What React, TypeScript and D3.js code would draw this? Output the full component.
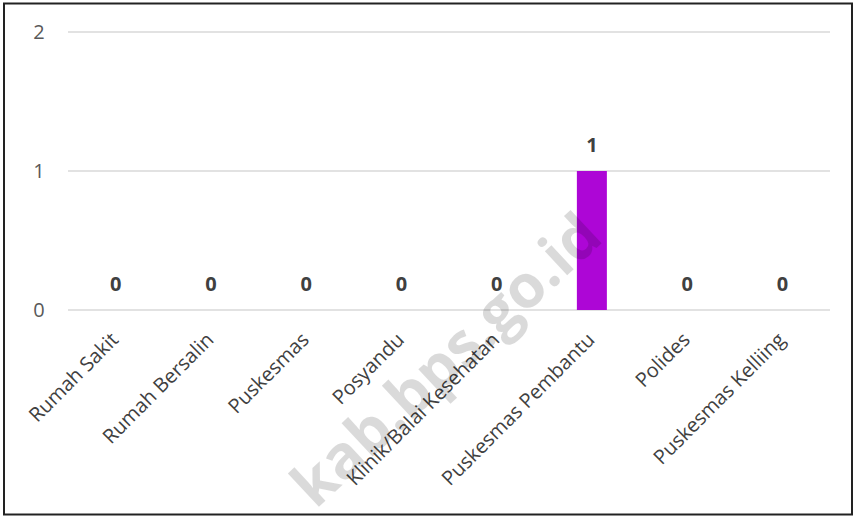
import React from "react";
import * as d3 from "d3";

const categories = [
  "Rumah Sakit",
  "Rumah Bersalin",
  "Puskesmas",
  "Posyandu",
  "Klinik/Balai Kesehatan",
  "Puskesmas Pembantu",
  "Polides",
  "Puskesmas Kelliing",
];
const values = [0, 0, 0, 0, 0, 1, 0, 0];
const yTicks = [0, 1, 2];

const W = 854;
const H = 516;
const margin = { left: 68, right: 24, top: 32, bottom: 206 };

export default function App() {
  const x = d3
    .scaleBand<string>()
    .domain(categories)
    .range([margin.left, W - margin.right])
    .paddingInner(0)
    .paddingOuter(0);
  const y = d3
    .scaleLinear()
    .domain([0, 2])
    .range([H - margin.bottom, margin.top]);
  const barW = 30;
  const font = "'Open Sans', sans-serif";

  return (
    <svg
      width={W}
      height={H}
      style={{ position: "absolute", left: 0, top: 0, background: "#fff" }}
    >
      <rect x={0} y={0} width={W} height={H} fill="#fff" />
      {yTicks.map((t) => (
        <g key={t}>
          <line
            x1={margin.left}
            x2={W - margin.right}
            y1={y(t)}
            y2={y(t)}
            stroke="#d9d9d9"
            strokeWidth={1.5}
          />
          <text
            x={39}
            y={y(t)}
            dy="0.35em"
            textAnchor="middle"
            fontFamily={font}
            fontSize={20}
            fill="#595959"
          >
            {t}
          </text>
        </g>
      ))}
      {categories.map((c, i) => {
        const cx = (x(c) as number) + x.bandwidth() / 2;
        const v = values[i];
        return (
          <g key={c}>
            {v > 0 && (
              <rect
                x={cx - barW / 2}
                y={y(v)}
                width={barW}
                height={y(0) - y(v)}
                fill="#AD06D6"
              />
            )}
            <text
              x={cx}
              y={y(v) - 26}
              dy="0.35em"
              textAnchor="middle"
              fontFamily={font}
              fontWeight="bold"
              fontSize={20}
              fill="#404040"
            >
              {v}
            </text>
            <text
              transform={`translate(${cx + 4},${y(0) + 31}) rotate(-45)`}
              textAnchor="end"
              fontFamily={font}
              fontSize={20}
              fill="#404040"
            >
              {c}
            </text>
          </g>
        );
      })}
      <text
        transform="translate(605,240) rotate(-43)"
        textAnchor="end"
        fontFamily={font}
        fontWeight="bold"
        fontSize={60}
        fill="#000"
        opacity={0.14}
      >
        kab.bps.go.id
      </text>
      <rect
        x={4}
        y={3.5}
        width={848}
        height={511}
        fill="none"
        stroke="#222"
        strokeWidth={2}
      />
    </svg>
  );
}
